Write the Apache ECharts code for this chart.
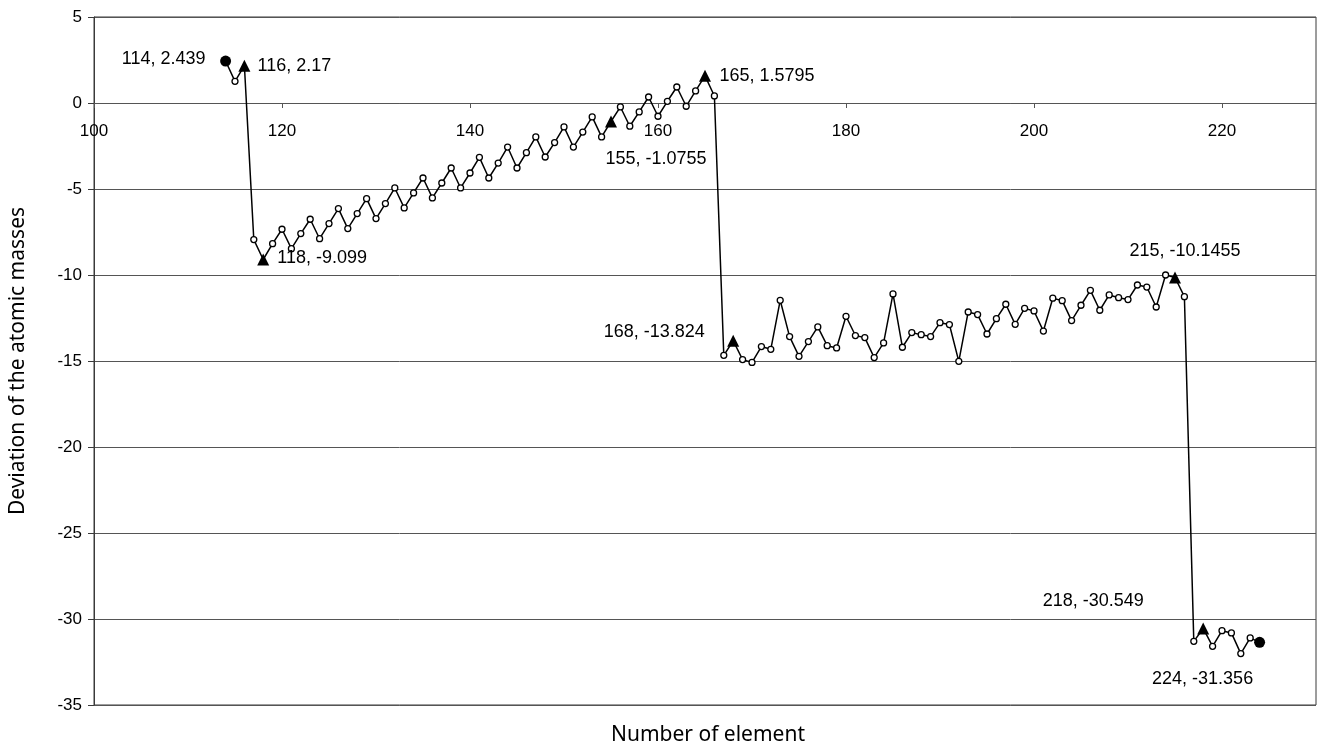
<!DOCTYPE html>
<html>
<head>
<meta charset="utf-8">
<script src="https://cdn.jsdelivr.net/npm/echarts@6/dist/echarts.min.js"></script>
<style>
html,body{margin:0;padding:0;background:#fff;}
#chart{width:1321px;height:747px;}
</style>
</head>
<body>
<div id="chart"></div>
<script>
// ---- data ----
const elements = [114,115,116,117,118,119,120,121,122,123,124,125,126,127,128,129,130,131,132,133,134,135,136,137,138,139,140,
141,142,143,144,145,146,147,148,149,150,151,152,153,154,155,156,157,158,159,160,161,162,163,164,165,166,
167,168,169,170,171,172,173,174,175,176,177,178,179,180,181,182,183,184,185,186,187,188,189,190,191,192,
193,194,195,196,197,198,199,200,201,202,203,204,205,206,207,208,209,210,211,212,213,214,215,216,
217,218,219,220,221,222,223,224];
const deviations = [2.439,1.26,2.17,-7.94,-9.099,-8.18,-7.34,-8.47,-7.59,-6.76,-7.89,-7.01,-6.14,-7.30,-6.43,-5.56,-6.72,-5.85,-4.94,-6.10,-5.23,-4.36,-5.52,-4.65,-3.78,-4.94,-4.07,
-3.16,-4.36,-3.49,-2.56,-3.78,-2.89,-1.97,-3.14,-2.30,-1.39,-2.56,-1.69,-0.81,-1.97,-1.0755,-0.23,-1.35,-0.52,0.35,-0.77,0.10,0.93,-0.19,0.70,1.5795,0.41,
-14.67,-13.824,-14.92,-15.08,-14.16,-14.32,-11.47,-13.58,-14.73,-13.87,-13.02,-14.11,-14.24,-12.40,-13.52,-13.64,-14.80,-13.95,-11.10,-14.20,-13.35,-13.47,-13.58,-12.77,-12.88,-15.02,
-12.15,-12.30,-13.43,-12.54,-11.70,-12.87,-11.94,-12.09,-13.26,-11.35,-11.49,-12.65,-11.76,-10.89,-12.05,-11.16,-11.32,-11.43,-10.58,-10.70,-11.86,-10.0,-10.1455,-11.26,
-31.30,-30.549,-31.59,-30.68,-30.81,-32.01,-31.10,-31.356];
const triangleElements = [116,118,155,165,168,215,218];
const dotElements = [114,224];
const xTicks = [100,120,140,160,180,200,220];
const yTicks = [5,0,-5,-10,-15,-20,-25,-30,-35];
const xTitle = 'Number of element';
const yTitle = 'Deviation of the atomic masses';

// ---- styles (label offsets from marker centre, px) ----
const labelOffsets = {
  114: [-62, -2], 116: [50, 0], 118: [59, -1], 155: [45, 38], 165: [62, 0],
  168: [-79, -9], 215: [10, -26], 218: [-110, -27], 224: [-57, 37]
};
const GRID = { left: 94, right: 5, top: 17, bottom: 42 };
const Y_MIN = -35, Y_MAX = 5;
const plotH = 747 - GRID.top - GRID.bottom;
// shift the bottom x axis up so that it crosses the y axis at 0
const xAxisOffset = -plotH * (0 - Y_MIN) / (Y_MAX - Y_MIN);

const seriesData = elements.map((n, i) => {
  const v = deviations[i];
  const item = { value: [n, v] };
  const isTri = triangleElements.includes(n);
  const isDot = dotElements.includes(n);
  if (isTri || isDot) {
    item.symbol = isTri ? 'triangle' : 'circle';
    item.symbolSize = isTri ? [12, 12] : 11;
    item.itemStyle = { color: '#000', borderColor: '#000', borderWidth: 0 };
    item.label = {
      show: true,
      position: 'inside',
      offset: labelOffsets[n] || [0, -15],
      formatter: n + ', ' + v,
      color: '#000',
      fontFamily: 'Liberation Sans, Arial, sans-serif',
      fontSize: 18,
      align: 'center',
      verticalAlign: 'middle'
    };
  }
  return item;
});

const chart = echarts.init(document.getElementById('chart'), null, { renderer: 'canvas' });
chart.setOption({
  animation: false,
  backgroundColor: '#fff',
  grid: {
    left: GRID.left, right: GRID.right, top: GRID.top, bottom: GRID.bottom,
    show: true, borderColor: '#3a3a3a', borderWidth: 1,
    containLabel: false, outerBoundsMode: 'none'
  },
  xAxis: {
    type: 'value',
    position: 'bottom',
    offset: xAxisOffset,
    min: 100, max: 230, interval: 20,
    axisLine: { onZero: false, lineStyle: { color: '#555', width: 1 } },
    axisTick: { show: true, inside: false, length: 5, lineStyle: { color: '#555' } },
    axisLabel: {
      margin: 20, color: '#000', fontSize: 17,
      fontFamily: 'Liberation Sans, Arial, sans-serif',
      showMaxLabel: false,
      formatter: v => xTicks.includes(v) ? String(v) : ''
    },
    splitLine: { show: false }
  },
  yAxis: {
    type: 'value',
    min: Y_MIN, max: Y_MAX, interval: 5,
    axisLine: { show: true, onZero: false, lineStyle: { color: '#3a3a3a', width: 1 } },
    axisTick: { show: true, length: 6, lineStyle: { color: '#3a3a3a' } },
    axisLabel: {
      margin: 12, color: '#000', fontSize: 17,
      fontFamily: 'Liberation Sans, Arial, sans-serif',
      formatter: v => yTicks.includes(v) ? String(v) : ''
    },
    splitLine: { show: true, lineStyle: { color: '#555', width: 1 } }
  },
  graphic: [
    {
      type: 'text', x: 708, y: 735,
      style: { text: xTitle, fill: '#000', font: '21px "Noto Sans"', textAlign: 'center', textVerticalAlign: 'middle' }
    },
    {
      type: 'text', x: 18, y: 361, rotation: Math.PI / 2,
      style: { text: yTitle, fill: '#000', font: '21px "Noto Sans"', textAlign: 'center', textVerticalAlign: 'middle' }
    }
  ],
  series: [{
    type: 'line',
    data: seriesData,
    showAllSymbol: true,
    symbol: 'circle',
    symbolSize: 6,
    itemStyle: { color: '#fff', borderColor: '#000', borderWidth: 1.3 },
    lineStyle: { color: '#000', width: 1.5 },
    emphasis: { disabled: true },
    z: 3
  }]
});
</script>
</body>
</html>
